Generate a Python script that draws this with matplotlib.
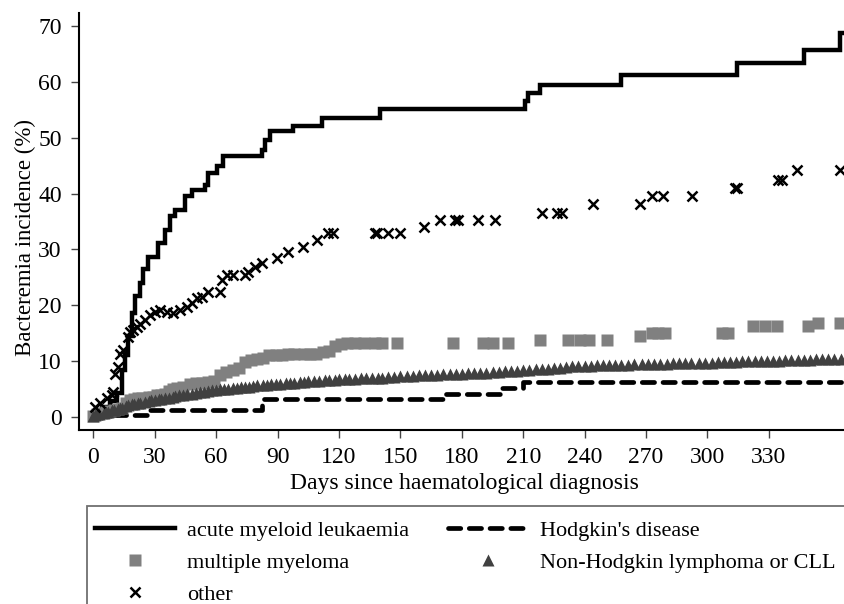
"""
Cumulative bacteraemia incidence by haematological diagnosis.
Values read off the original figure (percent vs. days since diagnosis).
"""

import matplotlib
matplotlib.use("Agg")
import matplotlib.pyplot as plt
from matplotlib.patches import Rectangle

# --- data -------------------------------------------------------------------
# acute myeloid leukaemia (step curve)
aml_days = [0, 4, 8, 11.4, 13.9, 15.5, 17.1, 18.7, 20.4, 22.8, 24.4, 26.9,
            31.8, 35.0, 37.5, 39.9, 44.8, 48.0, 54.6, 56.2, 60.3, 63.5, 82.2,
            83.9, 86.3, 97.7, 111.5, 140.0, 210.9, 212.5, 218.2, 257.7, 314.3,
            347.0, 364.8, 367]
aml_vals = [0.8, 1.8, 2.8, 4.2, 8.4, 11.0, 14.5, 18.6, 21.6, 24.0, 26.4, 28.7,
            31.1, 33.5, 35.9, 37.1, 39.5, 40.7, 41.6, 43.7, 44.9, 46.7, 47.9,
            49.7, 51.2, 52.1, 53.6, 55.1, 56.6, 58.0, 59.5, 61.3, 63.4,
            65.8, 68.8, 68.8]

# Hodgkin's disease (step curve)
hd_days = [0, 27, 82.3, 171.8, 198.7, 209.8, 367]
hd_vals = [0.3, 1.2, 3.1, 4.1, 5.1, 6.2, 6.2]

# multiple myeloma (square markers)
mm_days = [0, 2, 4, 6, 8, 10, 12, 14, 16, 18, 20, 22, 24, 27, 29, 31, 33, 35,
           37, 39, 41, 44, 47, 50, 53, 56, 59, 62, 65, 68, 71, 74, 77, 80, 83,
           86, 89, 92, 95, 98, 103, 106, 109, 112, 115, 118, 121, 124, 128,
           132, 137.6, 140.9, 148.2, 175.9, 190.5, 195.4, 202.7, 218.2, 232.0,
           237.7, 241.9, 250.8, 267.1, 272.8, 276, 279.3, 307.0, 310.2, 322.4,
           328.1, 333.8, 349.3, 354.2, 364.8]
mm_vals = [0.2, 0.4, 0.6, 0.8, 1.0, 1.2, 1.4, 1.6, 2.4, 3.0, 3.2, 3.4, 3.4,
           3.6, 3.6, 3.8, 3.8, 4.0, 4.6, 5.0, 5.2, 5.4, 5.8, 6.0, 6.0, 6.2, 6.4,
           7.4, 8.0, 8.4, 8.8, 9.8, 10.2, 10.4, 10.6, 11.0, 11.1, 11.1, 11.2,
           11.3, 11.3, 11.3, 11.3, 11.6, 11.8, 12.6, 13.0, 13.2, 13.2, 13.2,
           13.2, 13.2, 13.2, 13.2, 13.2, 13.2, 13.2, 13.8, 13.8, 13.8, 13.8,
           13.8, 14.4, 15.0, 15.0, 15.0, 15.0, 15.0, 16.2, 16.2, 16.2, 16.2,
           16.8, 16.8]

# Non-Hodgkin lymphoma or CLL (triangle markers, very dense in the original)
nhl_days = [0, 1, 2, 3, 5, 6, 7, 9, 10, 12,
            13, 14, 16, 17, 19, 20, 22, 23, 25, 27,
            28, 30, 32, 33, 35, 37, 39, 40, 42, 44,
            46, 48, 50, 52, 54, 56, 58, 60, 62, 64,
            66, 68, 70, 72, 74, 76, 78, 80, 83, 85,
            87, 89, 91, 94, 96, 98, 101, 103, 105, 108,
            110, 113, 115, 118, 120, 123, 125, 128, 131, 133,
            136, 139, 141, 144, 147, 150, 153, 156, 159, 162,
            165, 168, 171, 174, 177, 180, 183, 186, 189, 192,
            195, 198, 201, 204, 207, 210, 213, 216, 219, 222,
            225, 228, 231, 234, 237, 240, 243, 246, 249, 252,
            255, 258, 261, 264, 268, 271, 274, 277, 280, 283,
            286, 289, 292, 296, 299, 302, 305, 308, 311, 314,
            317, 320, 323, 326, 329, 332, 335, 338, 341, 344,
            347, 350, 353, 356, 359, 362, 365]
nhl_vals = [0.2, 0.3, 0.4, 0.5, 0.7, 0.8, 0.9, 1.1, 1.2, 1.4,
            1.5, 1.6, 1.9, 2.0, 2.2, 2.3, 2.4, 2.5, 2.6, 2.8,
            2.9, 3.0, 3.1, 3.2, 3.3, 3.4, 3.6, 3.7, 3.8, 3.9,
            4.0, 4.1, 4.3, 4.4, 4.5, 4.6, 4.7, 4.8, 4.9, 4.9,
            5.0, 5.1, 5.2, 5.3, 5.3, 5.4, 5.5, 5.6, 5.7, 5.7,
            5.8, 5.9, 5.9, 6.0, 6.1, 6.1, 6.2, 6.2, 6.3, 6.4,
            6.4, 6.5, 6.6, 6.6, 6.7, 6.7, 6.8, 6.8, 6.9, 6.9,
            7.0, 7.0, 7.0, 7.1, 7.1, 7.2, 7.2, 7.3, 7.4, 7.4,
            7.5, 7.5, 7.6, 7.6, 7.7, 7.7, 7.8, 7.8, 7.9, 7.9,
            8.0, 8.0, 8.1, 8.2, 8.2, 8.3, 8.4, 8.5, 8.6, 8.6,
            8.7, 8.8, 8.9, 9.0, 9.0, 9.1, 9.1, 9.2, 9.2, 9.2,
            9.3, 9.3, 9.3, 9.4, 9.4, 9.4, 9.5, 9.5, 9.5, 9.6,
            9.6, 9.6, 9.6, 9.7, 9.7, 9.7, 9.8, 9.8, 9.8, 9.8,
            9.9, 9.9, 9.9, 10.0, 10.0, 10.0, 10.0, 10.1, 10.1, 10.2,
            10.2, 10.2, 10.3, 10.3, 10.3, 10.4, 10.4]

# other diagnoses (x markers)
oth_days = [0.8, 3.3, 6.5, 9.0, 9.8, 10.6, 12.2, 13.0, 14.7, 17.1, 17.9, 19.6,
            21.2, 22.8, 25.3, 27.7, 30.1, 32.6, 35.8, 39.1, 42.3, 45.6, 48.0,
            50.5, 52.9, 56.2, 61.9, 62.7, 65.1, 68.4, 74.1, 75.7, 79.0, 82.2,
            89.6, 95.3, 102.6, 109.1, 114.8, 117.2, 137.6, 138.4, 144.1, 149.8,
            161.3, 169.4, 176.7, 178.3, 188.1, 196.2, 219.0, 226.4, 228.8,
            244.3, 267.1, 272.8, 278.5, 292.3, 313.5, 314.3, 334.6, 336.3,
            343.6, 364.8]
oth_vals = [1.8, 2.4, 3.3, 3.9, 4.5, 7.7, 8.9, 11.3, 11.9, 14.3, 15.2, 15.5,
            16.1, 16.7, 17.3, 18.2, 18.8, 19.1, 18.8, 18.5, 19.1, 19.7, 20.3,
            21.2, 21.5, 22.4, 22.4, 24.5, 25.4, 25.4, 25.4, 26.0, 26.9, 27.5,
            28.4, 29.6, 30.5, 31.7, 32.9, 32.9, 32.9, 32.9, 32.9, 32.9,
            34.1, 35.3, 35.3, 35.3, 35.3, 35.3, 36.6, 36.6, 36.6,
            38.1, 38.1, 39.5, 39.5, 39.5, 41.0, 41.0, 42.5, 42.5,
            44.2, 44.2]

labels = ["acute myeloid leukaemia", "multiple myeloma", "other",
          "Hodgkin's disease", "Non-Hodgkin lymphoma or CLL"]

x_ticks = list(range(0, 331, 30))
y_ticks = list(range(0, 71, 10))

# --- plot -------------------------------------------------------------------
plt.rcParams["font.family"] = ["Liberation Serif", "DejaVu Serif"]

W, H = 844, 604
fig = plt.figure(figsize=(W / 100, H / 100), dpi=100)
ax = fig.add_axes([79 / W, 1 - 430 / H, (W - 79) / W, (430 - 13) / H])

(aml,) = ax.step(aml_days, aml_vals, where="post", color="black", lw=3.2,
                 solid_joinstyle="miter", zorder=2)
(hd,) = ax.step(hd_days, hd_vals, where="post", color="black", lw=3.4,
                dashes=(2.6, 1.8), dash_capstyle="round", zorder=3)
(mm,) = ax.plot(mm_days, mm_vals, ls="none", marker="s", ms=8,
                color="#808080", mec="none", zorder=4)
(nhl,) = ax.plot(nhl_days, nhl_vals, ls="none", marker="^", ms=8.5,
                 color="#404040", mec="none", zorder=5)
(oth,) = ax.plot(oth_days, oth_vals, ls="none", marker="x", ms=7, mew=1.8,
                 color="black", zorder=6)

ax.set_xlim(-7, 366.7)
ax.set_ylim(-2.4, 72.4)
ax.set_xticks(x_ticks)
ax.set_yticks(y_ticks)
ax.tick_params(direction="out", length=5.5, width=1, color="#444444",
               pad=7, labelsize=17)
for side in ("top", "right"):
    ax.spines[side].set_visible(False)
for side in ("left", "bottom"):
    ax.spines[side].set_linewidth(1.5)

ax.set_xlabel("Days since haematological diagnosis", fontsize=17, va="center")
ax.xaxis.set_label_coords((464 - 79) / (W - 79), (430 - 483) / 417)
ax.set_ylabel("Bacteremia incidence (%)", fontsize=16.5, va="center")
ax.yaxis.set_label_coords((25 - 79) / (W - 79), (430 - 237) / 417)

# legend box runs off the bottom/right of the figure, as in the original
fig.add_artist(Rectangle((86.7 / W, -0.2), 1.0, 0.2 + 1 - 506 / H,
                         transform=fig.transFigure, fill=False,
                         edgecolor="#707070", lw=1.3))
fig.legend([aml, mm, oth, hd, nhl], labels, ncol=2, loc="upper left",
           bbox_to_anchor=(95 / W, 1 - 520 / H), frameon=False, borderpad=0,
           borderaxespad=0, handlelength=3.6, handletextpad=0.53,
           columnspacing=1.77, labelspacing=0.52, fontsize=16,
           markerscale=1.1)

fig.savefig("out.png", dpi=100)
